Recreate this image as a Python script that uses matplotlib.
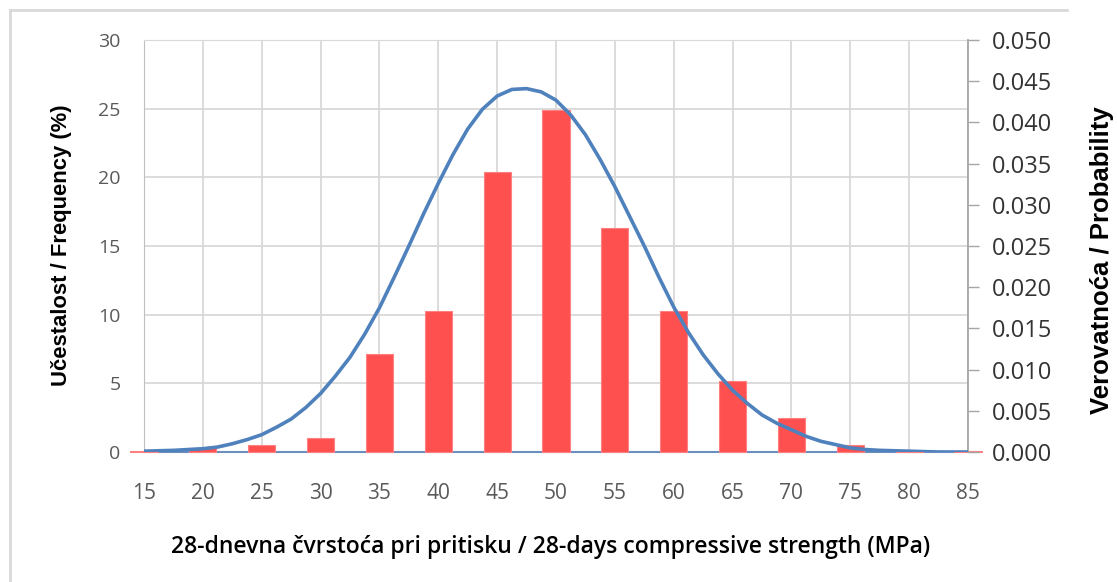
import numpy as np
import matplotlib
matplotlib.use('Agg')
import matplotlib.pyplot as plt
from matplotlib.lines import Line2D

# histogram of 28-day compressive strength (bins at 15..85 MPa)
strength = [15, 20, 25, 30, 35, 40, 45, 50, 55, 60, 65, 70, 75, 80, 85]
frequency = [0.1, 0.3, 0.5, 1.0, 7.1, 10.3, 20.4, 24.9, 16.3, 10.3, 5.2, 2.5, 0.5, 0.1, 0.1]

# fitted probability curve (every 1.25 MPa)
curve_x = [15, 16.25, 17.5, 18.75, 20, 21.25, 22.5, 23.75, 25, 26.25, 27.5, 28.75,
           30, 31.25, 32.5, 33.75, 35, 36.25, 37.5, 38.75, 40, 41.25, 42.5, 43.75,
           45, 46.25, 47.5, 48.75, 50, 51.25, 52.5, 53.75, 55, 56.25, 57.5, 58.75,
           60, 61.25, 62.5, 63.75, 65, 66.25, 67.5, 68.75, 70, 71.25, 72.5, 73.75,
           75, 76.25, 77.5, 78.75, 80, 81.25, 82.5, 83.75, 85]
curve_p = [0.0001, 0.00015, 0.0002, 0.0003, 0.0004, 0.0006, 0.0010, 0.0015,
           0.0021, 0.0030, 0.0040, 0.0054, 0.0071, 0.0092, 0.0115, 0.0143,
           0.0175, 0.0212, 0.0250, 0.0289, 0.0326, 0.0361, 0.0392, 0.0416,
           0.0432, 0.0440, 0.0441, 0.0437, 0.0427, 0.0409, 0.0385, 0.0355,
           0.0322, 0.0286, 0.0250, 0.0212, 0.0176, 0.0145, 0.0118, 0.0095,
           0.0075, 0.0059, 0.0045, 0.0035, 0.0027, 0.0019, 0.0013, 0.0009,
           0.0005, 0.0003, 0.0002, 0.00015, 0.0001, 0.00005, 0.0, 0.0, 0.0]

W, H = 1117, 582
fig = plt.figure(figsize=(W / 100, H / 100), dpi=100)
ax = fig.add_axes([144 / W, 1 - 452 / H, (968 - 144) / W, (452 - 40) / H])
ax2 = ax.twinx()

tick_col = '#595959'
grid_col = '#D9D9D9'

ax.bar(strength, frequency, width=2.3, color='#FF5050', edgecolor='#FF8080',
       linewidth=0.8, clip_on=False, zorder=3)
ax.set_xlim(15, 85)
ax.set_ylim(0, 30)
ax.set_xticks(strength)
ax.set_yticks(range(0, 31, 5))
ax.set_axisbelow(True)
ax.grid(True, color=grid_col, linewidth=1.3)
ax.tick_params(axis='y', length=0, pad=17, labelsize=14, labelcolor=tick_col)
ax.tick_params(axis='x', length=0, pad=22, labelsize=15, labelcolor=tick_col)
for lab in ax.get_xticklabels() + ax.get_yticklabels():
    lab.set_family('Open Sans')
ax.spines['top'].set_color(grid_col)
ax.spines['left'].set_color('#BFBFBF')
ax.spines['right'].set_visible(False)
ax.spines['bottom'].set_color('#6C8EBF')
ax.spines['bottom'].set_linewidth(1.5)

ax2.plot(curve_x, curve_p, color='#4F81BD', linewidth=2.6, solid_capstyle='round',
         solid_joinstyle='round', zorder=4)
ax2.set_ylim(0, 0.05)
ax2.set_yticks(np.arange(0, 0.0501, 0.005))
ax2.yaxis.set_major_formatter(plt.FuncFormatter(lambda v, p: '%.3f' % v))
ax2.tick_params(axis='y', length=8, width=1, color='#A6A6A6', pad=9,
                labelsize=17, labelcolor='#333333')
for lab in ax2.get_yticklabels():
    lab.set_family('Open Sans')
for s in ['top', 'left', 'bottom']:
    ax2.spines[s].set_visible(False)
ax2.spines['right'].set_color('#A6A6A6')
ax2.spines['right'].set_linewidth(1.3)

fig.text(551 / W, 1 - 547 / H,
         '28-dnevna čvrstoća pri pritisku / 28-days compressive strength (MPa)',
         ha='center', va='center', fontsize=16.5, fontweight='semibold',
         family='Open Sans', color='black')
fig.text(62 / W, 1 - 245 / H, 'Učestalost / Frequency (%)', rotation=90,
         ha='center', va='center', fontsize=15.8, fontweight='bold',
         family='Liberation Sans', color='black')
fig.text(1102 / W, 1 - 260 / H, 'Verovatnoća / Probability', rotation=90,
         ha='center', va='center', fontsize=18.5, fontweight='bold',
         family='Liberation Sans', color='black')

# chart area frame (top and left edges)
fig.add_artist(Line2D([10 / W, 10 / W], [0, 1 - 10 / H], transform=fig.transFigure,
                      color='#D9D9D9', linewidth=2))
fig.add_artist(Line2D([10 / W, 1067 / W], [1 - 10 / H, 1 - 10 / H],
                      transform=fig.transFigure, color='#D9D9D9', linewidth=2))

fig.savefig('out.png', dpi=100)
